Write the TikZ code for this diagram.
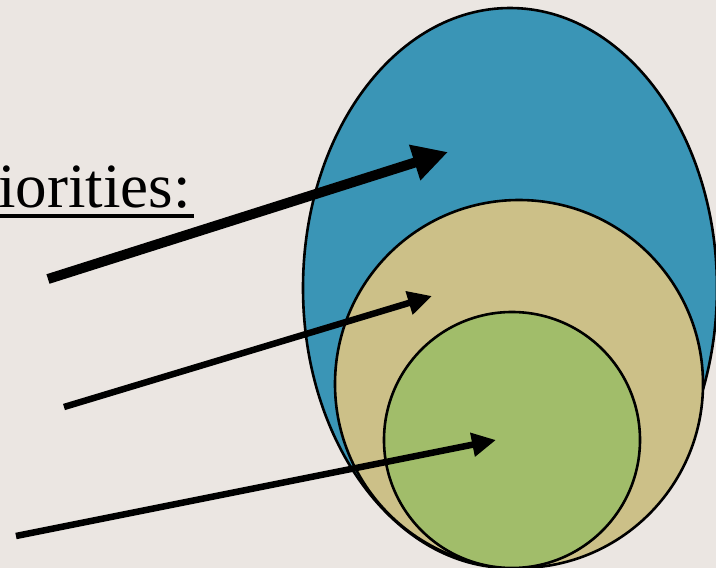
\documentclass[tikz,border=0pt]{standalone}
\usepackage{fontspec}
\setmainfont{Liberation Serif}
\usetikzlibrary{arrows.meta}
\definecolor{bgc}{HTML}{EBE6E2}
\definecolor{bluec}{HTML}{3A95B6}
\definecolor{tanc}{HTML}{CCC088}
\definecolor{greenc}{HTML}{A1BD6A}
\tikzset{
  region/.style={draw=black,line width=2.6pt},
  bigarrow/.style={line width=10pt,-{Triangle[length=35pt,width=35pt]}},
  smallarrow/.style={line width=6.5pt,-{Triangle[length=24pt,width=23pt]}},
}
\begin{document}
\begin{tikzpicture}[x=1pt,y=-1pt]
\fill[bgc] (0,0) rectangle (716,568);
\useasboundingbox (0,0) rectangle (716,568);
\draw[region,fill=bluec] (510,288) ellipse [x radius=207,y radius=280];
\draw[region,fill=tanc] (519,384) circle [radius=184];
\draw[region,fill=greenc] (512,440) circle [radius=128];
\node[anchor=base east,inner sep=0pt,font=\fontsize{63}{70}\selectfont] (title) at (191,207) {iorities:};
\coordinate (u1) at (0,216);
\coordinate (u2) at (194,216);
\draw[line width=4pt] (u1) -- (u2);
\coordinate (a1s) at (48,279);
\coordinate (a1e) at (448,152);
\coordinate (a2s) at (64,407);
\coordinate (a2e) at (432,296);
\coordinate (a3s) at (16,536);
\coordinate (a3e) at (496,440);
\draw[bigarrow] (a1s) -- (a1e);
\draw[smallarrow] (a2s) -- (a2e);
\draw[smallarrow] (a3s) -- (a3e);
\end{tikzpicture}
\end{document}
